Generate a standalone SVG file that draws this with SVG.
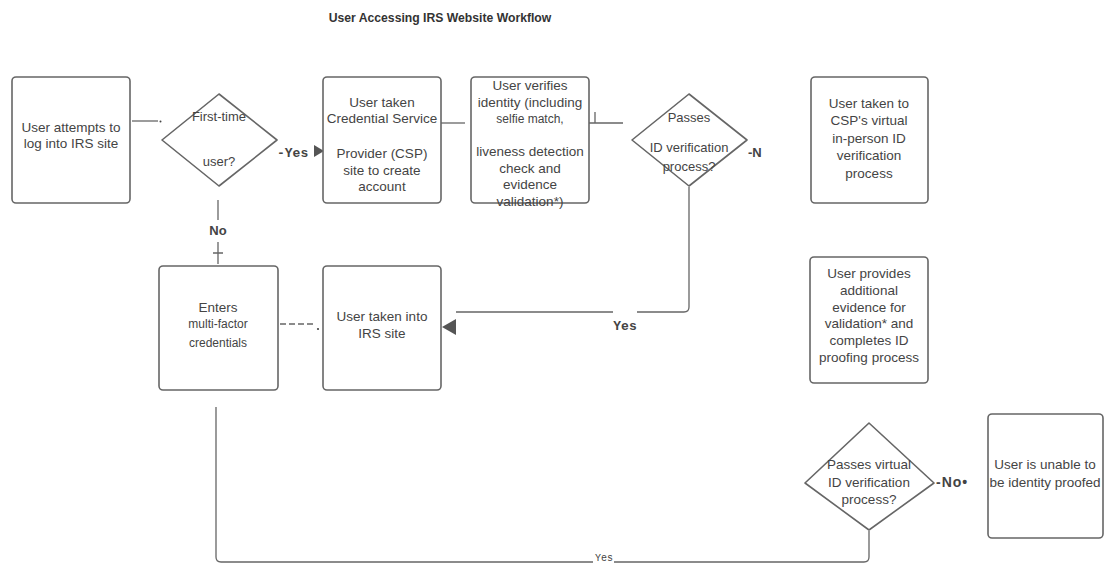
<svg xmlns="http://www.w3.org/2000/svg" width="1105" height="564" viewBox="0 0 1105 564">
<style>
.box{fill:#fff;stroke:#666;stroke-width:1.6}
.dia{fill:#fff;stroke:#666;stroke-width:1.6;stroke-linejoin:round}
.t{font-family:"Liberation Sans",Arial,sans-serif;font-size:13.5px;fill:#444;text-anchor:middle}
.s{font-size:12px}
.ln{fill:none;stroke:#666;stroke-width:1.3}
.lab{font-family:"Liberation Mono","Courier New",monospace;font-size:13px;font-weight:bold;fill:#444}
.labs{font-family:"Liberation Sans",Arial,sans-serif;font-size:13px;font-weight:bold;fill:#444}
.ah{fill:#555}
</style>
<rect width="1105" height="564" fill="#fff"/>
<text x="440" y="22" class="t" style="font-weight:bold;font-size:12.2px;fill:#333">User Accessing IRS Website Workflow</text>

<g id="connectors">
  <path class="ln" d="M132 121 H158"/>
  <circle cx="160.5" cy="121.5" r="1" fill="#444"/>
  <text x="277" y="157" class="lab">-Yes</text>
  <path class="ah" d="M314 145 L324 151 L314 157 Z"/>
  <path class="ln" d="M441 123 H465"/>
  <path class="ln" d="M589 123 H623 M595 112 V123"/>
  <text x="748" y="157" class="labs">-N</text>
  <path class="ln" d="M689 187 V307 Q689 312 684 312 H637 M613 312 H456"/>
  <text x="625" y="330" class="lab" text-anchor="middle">Yes</text>
  <path class="ah" d="M456 319 L442 327 L456 335 Z"/>
  <path class="ln" d="M218 200 V220"/>
  <text x="218" y="235" class="labs" text-anchor="middle">No</text>
  <path class="ln" d="M218 242 V264 M213 253 H223"/>
  <path class="ln" d="M280 324 H313" stroke-width="2" stroke-dasharray="6,3"/>
  <circle cx="318" cy="329" r="1.1" fill="#444"/>
  <path class="ln" d="M216 407 V557 Q216 562 221 562 H593 M614 562 H864 Q869 562 869 557 V531"/>
  <text x="604" y="561" class="lab" style="font-size:10px;font-weight:normal" text-anchor="middle">Yes</text>
  <text x="936" y="487" class="labs" style="font-size:14px;letter-spacing:1px">-No•</text>
</g>

<g id="n1"><rect class="box" x="12" y="77" width="118" height="126" rx="4"/>
<text class="t" x="71" y="132">User attempts to</text><text class="t" x="71" y="148">log into IRS site</text></g>

<g id="n2"><path class="dia" d="M219 94 L277 140 L219 186 L162 140 Z"/>
<text class="t" x="219" y="121" style="font-size:13px">First-time</text><text class="t" x="219" y="166" style="font-size:13px">user?</text></g>

<g id="n3"><rect class="box" x="323" y="77" width="118" height="126" rx="4"/>
<text class="t" x="382" y="107">User taken</text>
<text class="t" x="382" y="123">Credential Service</text>
<text class="t" x="382" y="158">Provider (CSP)</text>
<text class="t" x="382" y="175">site to create</text>
<text class="t" x="382" y="191">account</text></g>

<g id="n4"><rect class="box" x="471" y="77" width="118" height="126" rx="4"/>
<text class="t" x="530" y="90">User verifies</text>
<text class="t" x="530" y="107">identity (including</text>
<text class="t s" x="530" y="123">selfie match,</text>
<text class="t" x="530" y="156">liveness detection</text>
<text class="t" x="530" y="173">check and</text>
<text class="t" x="530" y="189">evidence</text>
<text class="t" x="530" y="206">validation*)</text></g>

<g id="n5"><path class="dia" d="M689 94 L747 140 L689 186 L632 140 Z"/>
<text class="t" x="689" y="122" style="font-size:13px">Passes</text>
<text class="t" x="689" y="152" style="font-size:13px">ID verification</text>
<text class="t" x="689" y="171" style="font-size:13px">process?</text></g>

<g id="n6"><rect class="box" x="811" y="77" width="117" height="126" rx="4"/>
<text class="t" x="869" y="108">User taken to</text>
<text class="t" x="869" y="125">CSP's virtual</text>
<text class="t" x="869" y="143">in-person ID</text>
<text class="t" x="869" y="160">verification</text>
<text class="t" x="869" y="178">process</text></g>

<g id="n7"><rect class="box" x="810" y="257" width="118" height="126" rx="4"/>
<text class="t" x="869" y="278">User provides</text>
<text class="t" x="869" y="295">additional</text>
<text class="t" x="869" y="312">evidence for</text>
<text class="t" x="869" y="328">validation* and</text>
<text class="t" x="869" y="345">completes ID</text>
<text class="t" x="869" y="362">proofing process</text></g>

<g id="n8"><rect class="box" x="159" y="266" width="119" height="124" rx="4"/>
<text class="t" x="218" y="312">Enters</text>
<text class="t s" x="218" y="328">multi-factor</text>
<text class="t s" x="218" y="347">credentials</text></g>

<g id="n9"><rect class="box" x="323" y="266" width="118" height="124" rx="4"/>
<text class="t" x="382" y="321">User taken into</text>
<text class="t" x="382" y="338">IRS site</text></g>

<g id="n10"><path class="dia" d="M869 423 L934 483 L869 530 L805 483 Z"/>
<text class="t" x="869" y="469">Passes virtual</text>
<text class="t" x="869" y="487">ID verification</text>
<text class="t" x="869" y="504">process?</text></g>

<g id="n11"><rect class="box" x="988" y="414" width="115" height="124" rx="4"/>
<text class="t" x="1045" y="469">User is unable to</text>
<text class="t" x="1045" y="487">be identity proofed</text></g>
</svg>
